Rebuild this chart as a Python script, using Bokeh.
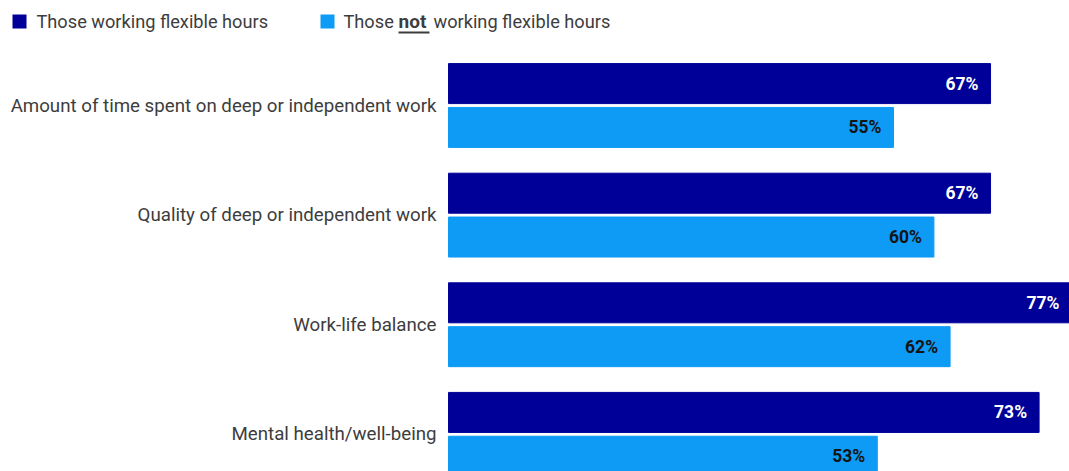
from bokeh.plotting import figure
from bokeh.models import Range1d, ColumnDataSource, Label, BoxAnnotation
from bokeh.core.properties import value
from bokeh.embed import file_html
from bokeh.resources import INLINE

categories = [
    "Amount of time spent on deep or independent work",
    "Quality of deep or independent work",
    "Work-life balance",
    "Mental health/well-being",
]
flexible = [67, 67, 77, 73]
not_flexible = [55, 60, 62, 53]
legend_labels = ["Those working flexible hours", "Those", "not", "working flexible hours"]

DARK = "#000099"
LIGHT = "#0D9BF5"
FONT = "Roboto"
TXT = "#3d3d3d"

W, H = 1069, 471
p = figure(width=W, height=H, output_backend="svg", toolbar_location=None,
           x_range=Range1d(-55.38, 76.76), y_range=Range1d(3.339, -0.958),
           x_axis_location=None, y_axis_location=None, min_border=0,
           outline_line_color=None)
p.xgrid.visible = False
p.ygrid.visible = False

idx = list(range(len(categories)))
src = ColumnDataSource(dict(
    y=idx,
    y1=[i - 0.2 for i in idx],
    y2=[i + 0.2 for i in idx],
    cat=categories,
    f=flexible,
    n=not_flexible,
    ft=[f"{v}%" for v in flexible],
    nt=[f"{v}%" for v in not_flexible],
))

p.hbar(y="y1", left=0, right="f", height=0.365, color=DARK, source=src)
p.hbar(y="y2", left=0, right="n", height=0.365, color=LIGHT, source=src)

p.text(x=0, y="y", text="cat", x_offset=-12, text_align="right", text_baseline="middle",
       text_font=value(FONT), text_font_size="18.7px", text_color=TXT, source=src)
p.text(x="f", y="y1", text="ft", x_offset=-12, text_align="right", text_baseline="middle",
       text_font=value(FONT), text_font_size="17.5px", text_font_style="bold",
       text_color="white", source=src)
p.text(x="n", y="y2", text="nt", x_offset=-12, text_align="right", text_baseline="middle",
       text_font=value(FONT), text_font_size="17.5px", text_font_style="bold",
       text_color="#141414", source=src)

# legend
def box(l, r, t, b, c):
    return BoxAnnotation(left=l, right=r, top=t, bottom=b,
                         left_units="screen", right_units="screen",
                         top_units="screen", bottom_units="screen",
                         fill_color=c, fill_alpha=1, line_color=None)

p.add_layout(box(12, 26, H - 14, H - 28, DARK))
p.add_layout(box(320, 334, H - 14, H - 28, LIGHT))
ly = H - 21
common = dict(y=ly, x_units="screen", y_units="screen", text_baseline="middle",
              text_font=FONT, text_font_size="18.2px", text_color=TXT)
p.add_layout(Label(x=36, text=legend_labels[0], **common))
p.add_layout(Label(x=343, text=legend_labels[1], **common))
bold = dict(common)
bold["text_font_style"] = "bold"
bold["text_font_size"] = "19px"
p.add_layout(Label(x=398, text=legend_labels[2], **bold))
p.add_layout(Label(x=433, text=legend_labels[3], **common))
p.add_layout(box(398, 429, H - 31, H - 33, TXT))

open("out.html", "w").write(file_html(p, INLINE))
